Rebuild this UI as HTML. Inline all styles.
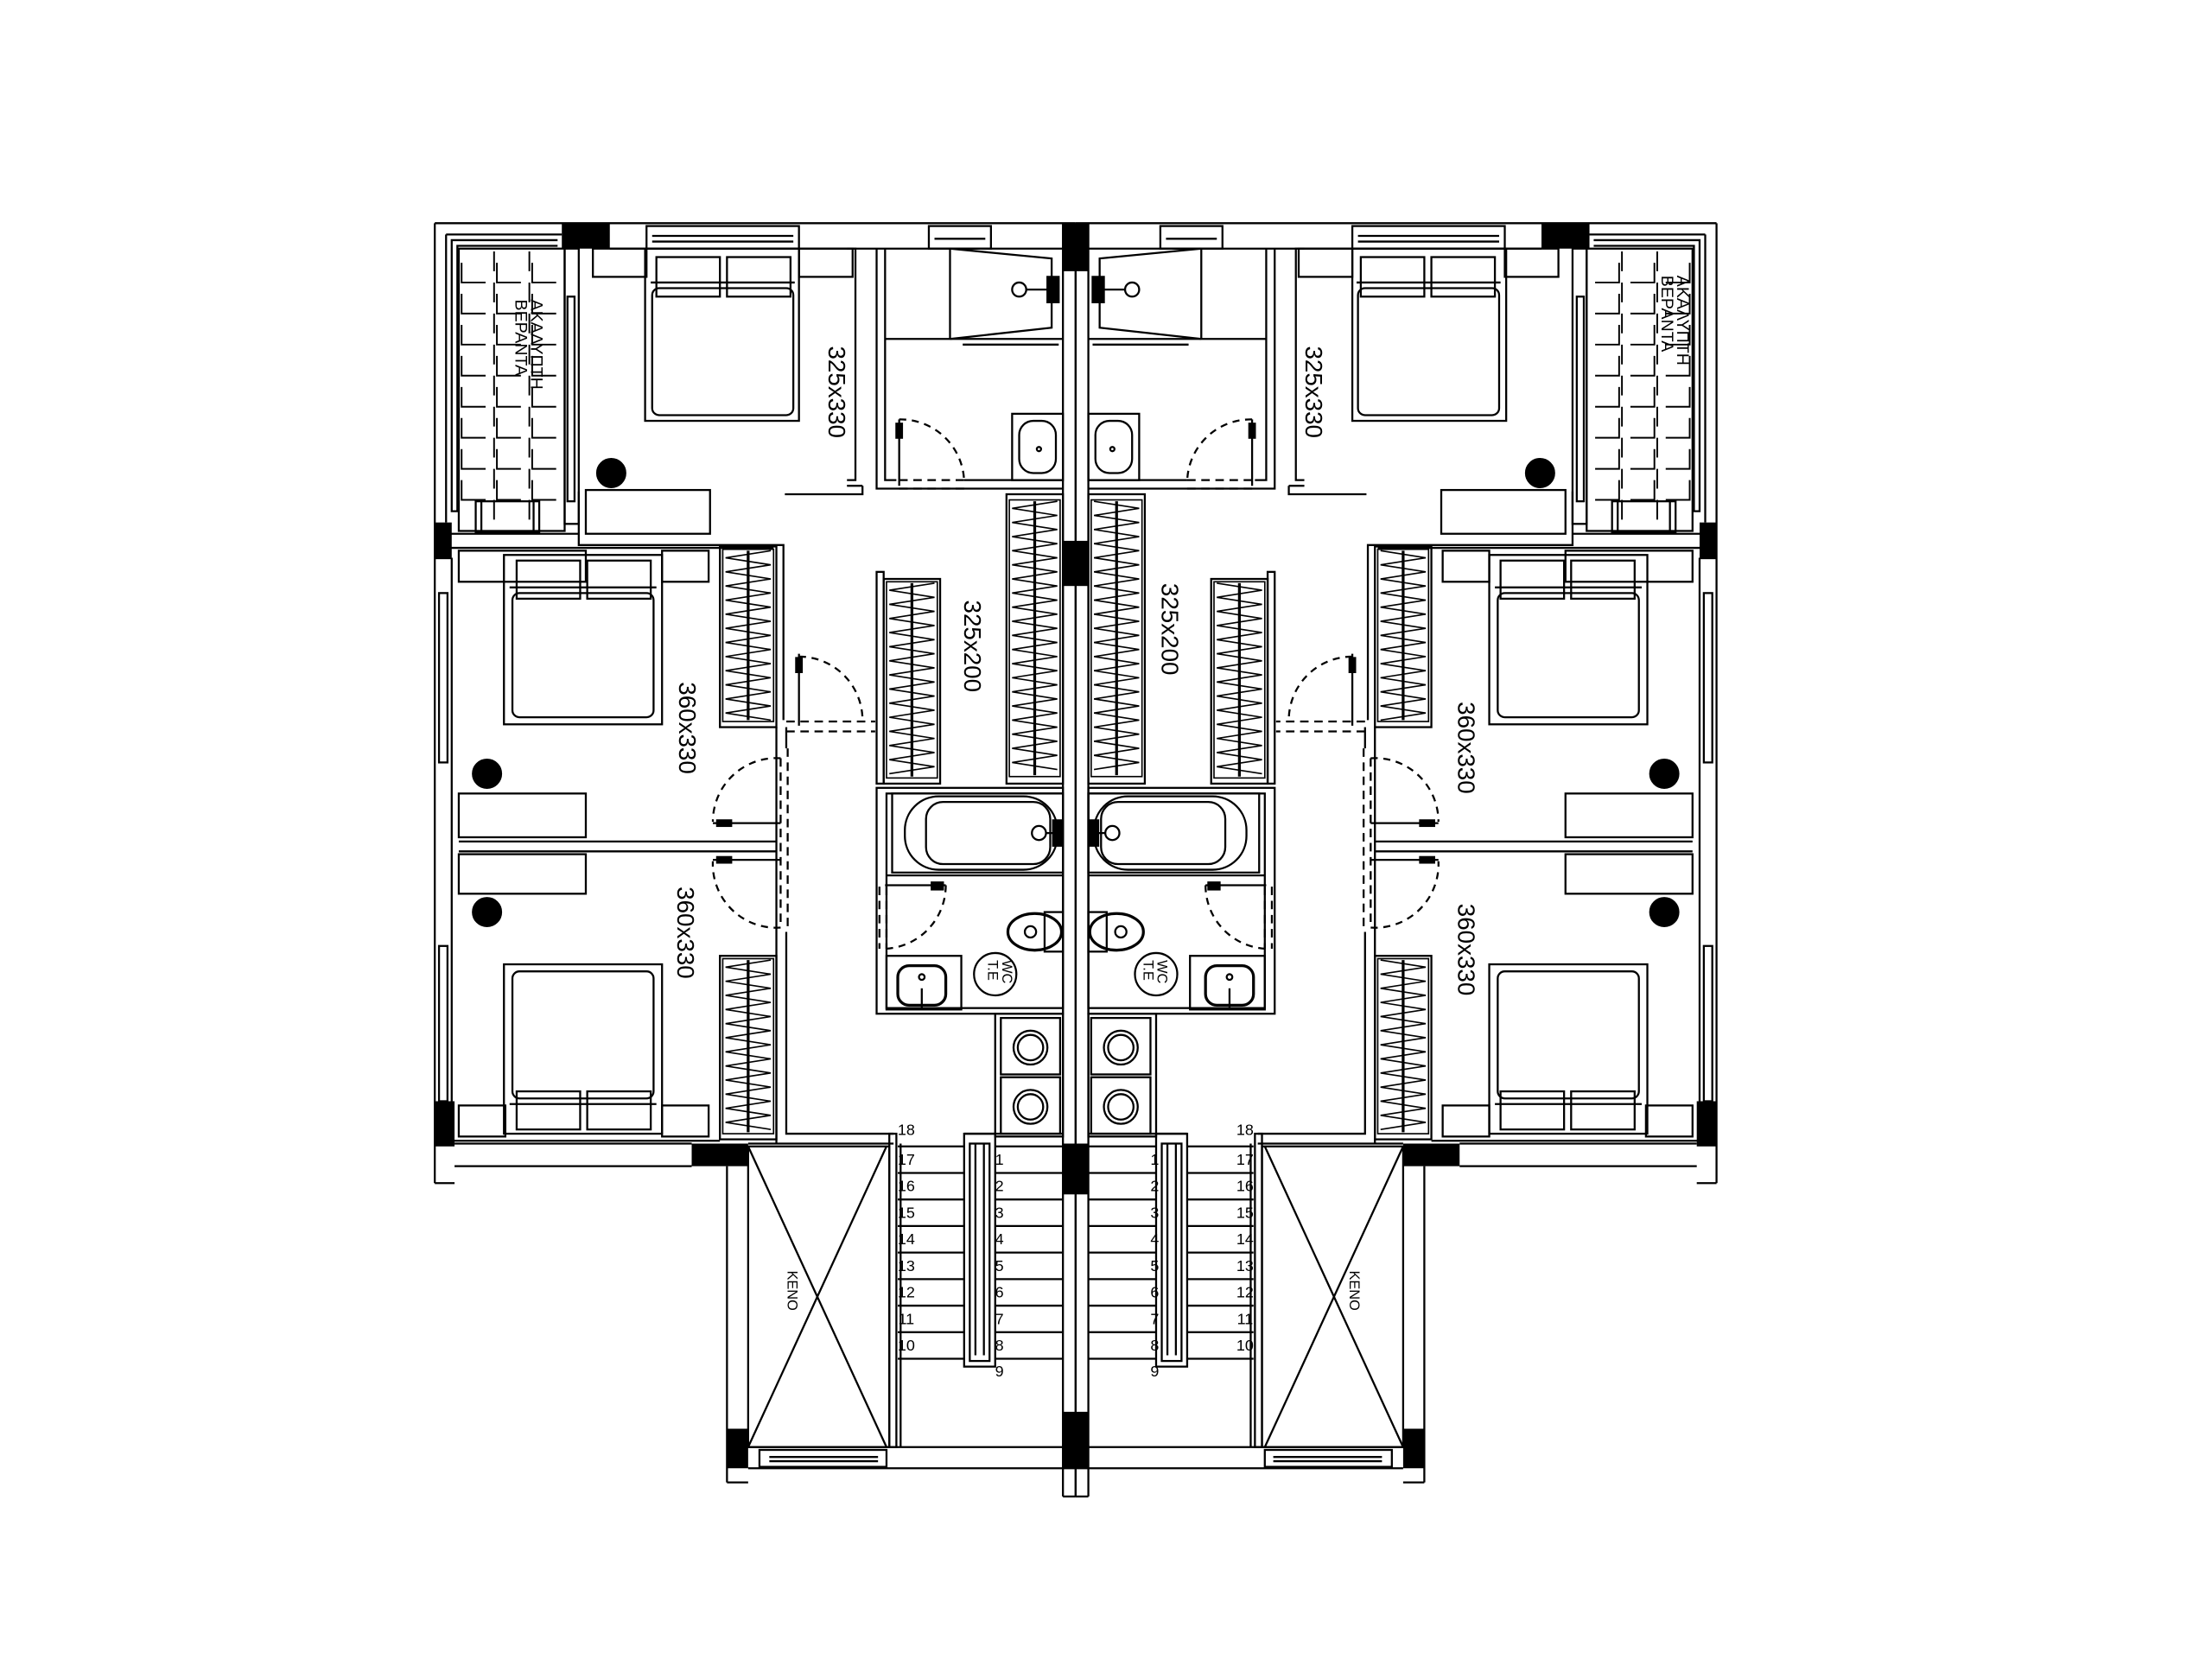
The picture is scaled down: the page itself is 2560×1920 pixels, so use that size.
<!DOCTYPE html>
<html><head><meta charset="utf-8"><style>
html,body{margin:0;padding:0;background:#fff}
svg{display:block}
text{font-family:"Liberation Sans",sans-serif;fill:#000}
</style></head><body>
<svg id="s" width="2560" height="1920" viewBox="0 0 1567 1175" xmlns="http://www.w3.org/2000/svg">
<rect width="1567" height="1175" fill="#fff"/>
<g id="H" fill="none" stroke="#000" stroke-width="1.4">
  <line x1="308" y1="158" x2="762" y2="158"/>
  <line x1="432" y1="176" x2="753" y2="176"/>
  <line x1="316" y1="166" x2="398" y2="166"/>
  <rect x="458" y="160" width="108" height="16"/><line x1="462" y1="167" x2="562" y2="167"/><line x1="462" y1="171" x2="562" y2="171"/>
  <rect x="658" y="160" width="44" height="16"/><line x1="662" y1="169" x2="698" y2="169"/>
  <line x1="308" y1="158" x2="308" y2="838"/>
  <line x1="316" y1="166" x2="316" y2="370"/>
  <line x1="320" y1="395" x2="320" y2="780"/>
  <line x1="308" y1="838" x2="322" y2="838"/>
  <polyline points="395,170 320,170 320,362 324,362 324,174 395,174"/>
  <rect x="325" y="176" width="75" height="200"/>
  <g stroke-dasharray="14 8" stroke-width="1.2">
    <line x1="350" y1="178" x2="350" y2="376"/><line x1="375" y1="178" x2="375" y2="376"/>
  </g>
  <g id="tiles" stroke-width="1.2"></g>
  <rect x="337" y="355" width="45" height="22"/><line x1="341" y1="355" x2="341" y2="377"/><line x1="378" y1="355" x2="378" y2="377"/>
  <rect x="400" y="176" width="10" height="195"/>
  <rect x="402" y="210" width="5" height="145"/>
  <line x1="316" y1="378" x2="410" y2="378"/>
  <rect x="420" y="176" width="38" height="20"/><rect x="566" y="176" width="38" height="20"/>
  <rect x="457" y="176" width="109" height="122"/>
  <rect x="462" y="204" width="100" height="90" rx="5"/>
  <line x1="461" y1="200" x2="563" y2="200"/>
  <rect x="465" y="182" width="45" height="28"/><rect x="515" y="182" width="45" height="28"/>
  <rect x="415" y="347" width="88" height="31"/>
  <circle cx="433" cy="335" r="10" fill="#000"/>
  <polyline points="410,348 410,386 555,386 555,510"/>
  <line x1="316" y1="388" x2="548" y2="388"/>
  <polyline points="600,176 606,176 606,340 600,340"/>
  <line x1="600" y1="344" x2="611" y2="344"/>
  <polyline points="611,344 611,350 556,350"/>
  <polyline points="621,176 621,346 753,346"/>
  <polyline points="627,176 627,340 635,340"/>
  <line x1="683" y1="340" x2="753" y2="340"/>
  <line x1="627" y1="240" x2="753" y2="240"/>
  <path d="M673,176 L673,240 M673,240 L745,232 L745,183 L673,176"/>
  <line x1="682" y1="244" x2="750" y2="244"/>
  <circle cx="722" cy="205" r="5"/><line x1="727" y1="205" x2="747" y2="205"/><rect x="742" y="196" width="8" height="18" fill="#000"/>
  <rect x="717" y="293" width="36" height="47"/><rect x="722" y="298" width="26" height="37" rx="10"/><circle cx="736" cy="318" r="1.5"/>
  <path d="M637,297 A45,45 0 0 1 683,342" stroke-dasharray="5 4"/>
  <line x1="637" y1="297" x2="637" y2="344"/><rect x="635" y="300" width="4" height="10" fill="#000"/>
  <g stroke-dasharray="6 4"><line x1="637" y1="340" x2="683" y2="340"/><line x1="637" y1="346" x2="683" y2="346"/></g>
  <rect x="713" y="350" width="40" height="205"/>
  <rect x="621" y="405" width="5" height="150"/>
  <rect x="626" y="410" width="40" height="145"/>
  <rect x="325" y="390" width="90" height="22"/><rect x="469" y="390" width="33" height="22"/>
  <rect x="357" y="393" width="112" height="120"/>
  <rect x="363" y="420" width="100" height="88" rx="5"/>
  <line x1="361" y1="416" x2="465" y2="416"/>
  <rect x="366" y="397" width="45" height="27"/><rect x="416" y="397" width="45" height="27"/>
  <rect x="325" y="562" width="90" height="31"/>
  <circle cx="345" cy="548" r="10" fill="#000"/>
  <rect x="510" y="387" width="40" height="128"/>
  <line x1="550" y1="515" x2="550" y2="810"/><line x1="557" y1="515" x2="557" y2="530"/>
  <path d="M566,465 A45,45 0 0 1 611,511" stroke-dasharray="5 4"/>
  <line x1="566" y1="463" x2="566" y2="514"/><rect x="564" y="466" width="4" height="10" fill="#000"/>
  <g stroke-dasharray="6 4"><line x1="557" y1="511" x2="620" y2="511"/><line x1="557" y1="518" x2="620" y2="518"/></g>
  <path d="M553,537 A45,45 0 0 0 505,582" stroke-dasharray="5 4"/>
  <line x1="505" y1="583" x2="553" y2="583"/><rect x="508" y="581" width="10" height="4" fill="#000"/>
  <path d="M553,657 A45,45 0 0 1 505,610" stroke-dasharray="5 4"/>
  <line x1="505" y1="609" x2="553" y2="609"/><rect x="508" y="607" width="10" height="4" fill="#000"/>
  <g stroke-dasharray="6 4"><line x1="553" y1="537" x2="553" y2="657"/><line x1="558" y1="530" x2="558" y2="660"/></g>
  <line x1="325" y1="596" x2="550" y2="596"/><line x1="325" y1="603" x2="550" y2="603"/>
  <rect x="325" y="605" width="90" height="28"/>
  <circle cx="345" cy="646" r="10" fill="#000"/>
  <rect x="357" y="683" width="112" height="120"/>
  <rect x="363" y="688" width="100" height="90" rx="5"/>
  <line x1="361" y1="782" x2="465" y2="782"/>
  <rect x="366" y="773" width="45" height="27"/><rect x="416" y="773" width="45" height="27"/>
  <rect x="325" y="783" width="33" height="22"/><rect x="469" y="783" width="33" height="22"/>
  <rect x="510" y="677" width="40" height="130"/>
  <line x1="316" y1="808" x2="510" y2="808"/>
  <line x1="322" y1="810" x2="490" y2="810"/><line x1="322" y1="826" x2="490" y2="826"/>
  <polyline points="557,660 557,803 633,803"/>
  <line x1="530" y1="810" x2="633" y2="810"/>
  <rect x="621" y="558" width="132" height="160"/>
  <rect x="628" y="562" width="125" height="152"/>
  <line x1="628" y1="620" x2="753" y2="620"/>
  <rect x="632" y="562" width="121" height="56"/>
  <rect x="641" y="564" width="108" height="52" rx="24"/>
  <rect x="656" y="568" width="88" height="44" rx="12"/>
  <circle cx="736" cy="590" r="5"/><line x1="741" y1="590" x2="751" y2="590"/><rect x="746" y="581" width="6" height="18" fill="#000"/>
  <path d="M670,627 A45,45 0 0 1 627,672" stroke-dasharray="5 4"/>
  <line x1="627" y1="627" x2="670" y2="627"/><rect x="660" y="625" width="8" height="5" fill="#000"/>
  <g stroke-dasharray="6 4"><line x1="623" y1="628" x2="623" y2="672"/><line x1="628" y1="628" x2="628" y2="672"/></g>
  <rect x="740" y="646" width="13" height="28"/>
  <ellipse cx="733" cy="660" rx="19" ry="13" stroke-width="2"/>
  <circle cx="730" cy="660" r="4"/>
  <rect x="628" y="677" width="53" height="38"/>
  <rect x="636" y="684" width="34" height="28" rx="8" stroke-width="2"/>
  <circle cx="653" cy="692" r="2"/><line x1="653" y1="700" x2="653" y2="714"/>
  <circle cx="705" cy="690" r="15"/>
  <rect x="705" y="718" width="48" height="87"/>
  <rect x="709" y="721" width="42" height="40"/><circle cx="730" cy="742" r="12"/><circle cx="730" cy="742" r="9"/>
  <rect x="709" y="763" width="42" height="40"/><circle cx="730" cy="784" r="12"/><circle cx="730" cy="784" r="9"/>
  <rect x="630" y="803" width="5" height="222"/>
  <line x1="638" y1="810" x2="638" y2="1025"/>
  <g id="treads"></g>
  <rect x="683" y="803" width="22" height="165"/>
  <rect x="687" y="810" width="14" height="154"/>
  <line x1="691" y1="810" x2="691" y2="960"/><line x1="697" y1="810" x2="697" y2="960"/>
  <line x1="683" y1="803" x2="753" y2="803"/>
  <rect x="530" y="812" width="100" height="213"/>
  <line x1="530" y1="812" x2="628" y2="1025"/><line x1="628" y1="812" x2="530" y2="1025"/>
  <line x1="515" y1="826" x2="515" y2="1050"/><line x1="530" y1="1040" x2="762" y2="1040"/>
  <line x1="530" y1="1025" x2="762" y2="1025"/>
  <rect x="538" y="1027" width="90" height="12"/><line x1="545" y1="1032" x2="622" y2="1032"/><line x1="545" y1="1035" x2="622" y2="1035"/>
  <line x1="515" y1="1050" x2="530" y2="1050"/>
  <line x1="753" y1="158" x2="753" y2="1060"/><line x1="762" y1="158" x2="762" y2="1060"/>
  <line x1="753" y1="1060" x2="762" y2="1060"/>
  <rect x="311" y="420" width="6" height="120"/><rect x="311" y="670" width="6" height="110"/>
  <g fill="#000" stroke="none">
    <rect x="398" y="158" width="34" height="18"/>
    <rect x="753" y="158" width="9" height="34"/>
    <rect x="308" y="370" width="12" height="26"/>
    <rect x="308" y="780" width="14" height="32"/>
    <rect x="490" y="810" width="40" height="16"/>
    <rect x="753" y="383" width="9" height="32"/>
    <rect x="753" y="810" width="9" height="36"/>
    <rect x="753" y="1000" width="9" height="40"/>
    <rect x="515" y="1012" width="15" height="28"/>
  </g>
</g>
<use href="#H" transform="translate(1524,0) scale(-1,1)"/>
<g id="T" font-size="11"></g>
<g font-size="17">
  <text transform="translate(587,245) rotate(90)">325x330</text>
  <text transform="translate(925,245) rotate(90)">325x330</text>
  <text transform="translate(683,425) rotate(90)">325x200</text>
  <text transform="translate(823,413) rotate(90)">325x200</text>
  <text transform="translate(481,483) rotate(90)">360x330</text>
  <text transform="translate(1033,497) rotate(90)">360x330</text>
  <text transform="translate(480,628) rotate(90)">360x330</text>
  <text transform="translate(1033,640) rotate(90)">360x330</text>
</g>
<g font-size="12">
  <text transform="translate(376,212) rotate(90)">ΑΚΑΛΥΠΤΗ</text>
  <text transform="translate(365,212) rotate(90)">ΒΕΡΑΝΤΑ</text>
  <text transform="translate(1188,195) rotate(90)">ΑΚΑΛΥΠΤΗ</text>
  <text transform="translate(1177,195) rotate(90)">ΒΕΡΑΝΤΑ</text>
</g>
<g font-size="10">
  <text transform="translate(558,900) rotate(90)">KENO</text>
  <text transform="translate(956,900) rotate(90)">KENO</text>
  <text transform="translate(710,680) rotate(90)">WC</text><text transform="translate(700,680) rotate(90)">T.E</text>
  <text transform="translate(820,680) rotate(90)">WC</text><text transform="translate(810,680) rotate(90)">T.E</text>
</g>
<script>
var NS="http://www.w3.org/2000/svg";
function el(p,t,a){var e=document.createElementNS(NS,t);for(var k in a)e.setAttribute(k,a[k]);p.appendChild(e);return e;}
var H=document.getElementById('H');
var tl=document.getElementById('tiles');
for(var y=200;y<370;y+=22){for(var c=0;c<3;c++){var x=327+c*25;el(tl,'polyline',{points:x+','+(y-14)+' '+x+','+y+' '+(x+17)+','+y});}}
var tr=document.getElementById('treads');
for(var i=0;i<9;i++){var y=812+i*18.8;el(tr,'line',{x1:636,y1:y,x2:683,y2:y});el(tr,'line',{x1:705,y1:y,x2:753,y2:y});}
function ward(x,y,w,h){var g=el(H,'g',{'stroke-width':1});el(g,'rect',{x:x+2,y:y+2,width:w-4,height:h-4});
 el(g,'line',{x1:x+w/2,y1:y+3,x2:x+w/2,y2:y+h-3,'stroke-width':2});
 var p='';var n=Math.floor((h-6)/5);for(var i=0;i<=n;i++){var yy=y+3+i*5;var xx=(i%2)?x+4:x+w-4;p+=xx+','+yy+' ';}
 el(g,'polyline',{points:p});}
ward(713,352,40,200);ward(626,410,40,143);ward(510,387,40,126);ward(510,677,40,128);
var T=document.getElementById('T');
function tx(x,y,s){var t=el(T,'text',{x:x,y:y,'text-anchor':'middle'});t.textContent=s;}
tx(642,804,'18');tx(882,804,'18');
for(var i=0;i<8;i++){var y=825+i*18.8;tx(642,y,String(17-i));tx(882,y,String(17-i));tx(708,y,String(i+1));tx(818,y,String(i+1));}
tx(708,975,'9');tx(818,975,'9');
</script>
</svg>
</body></html>
